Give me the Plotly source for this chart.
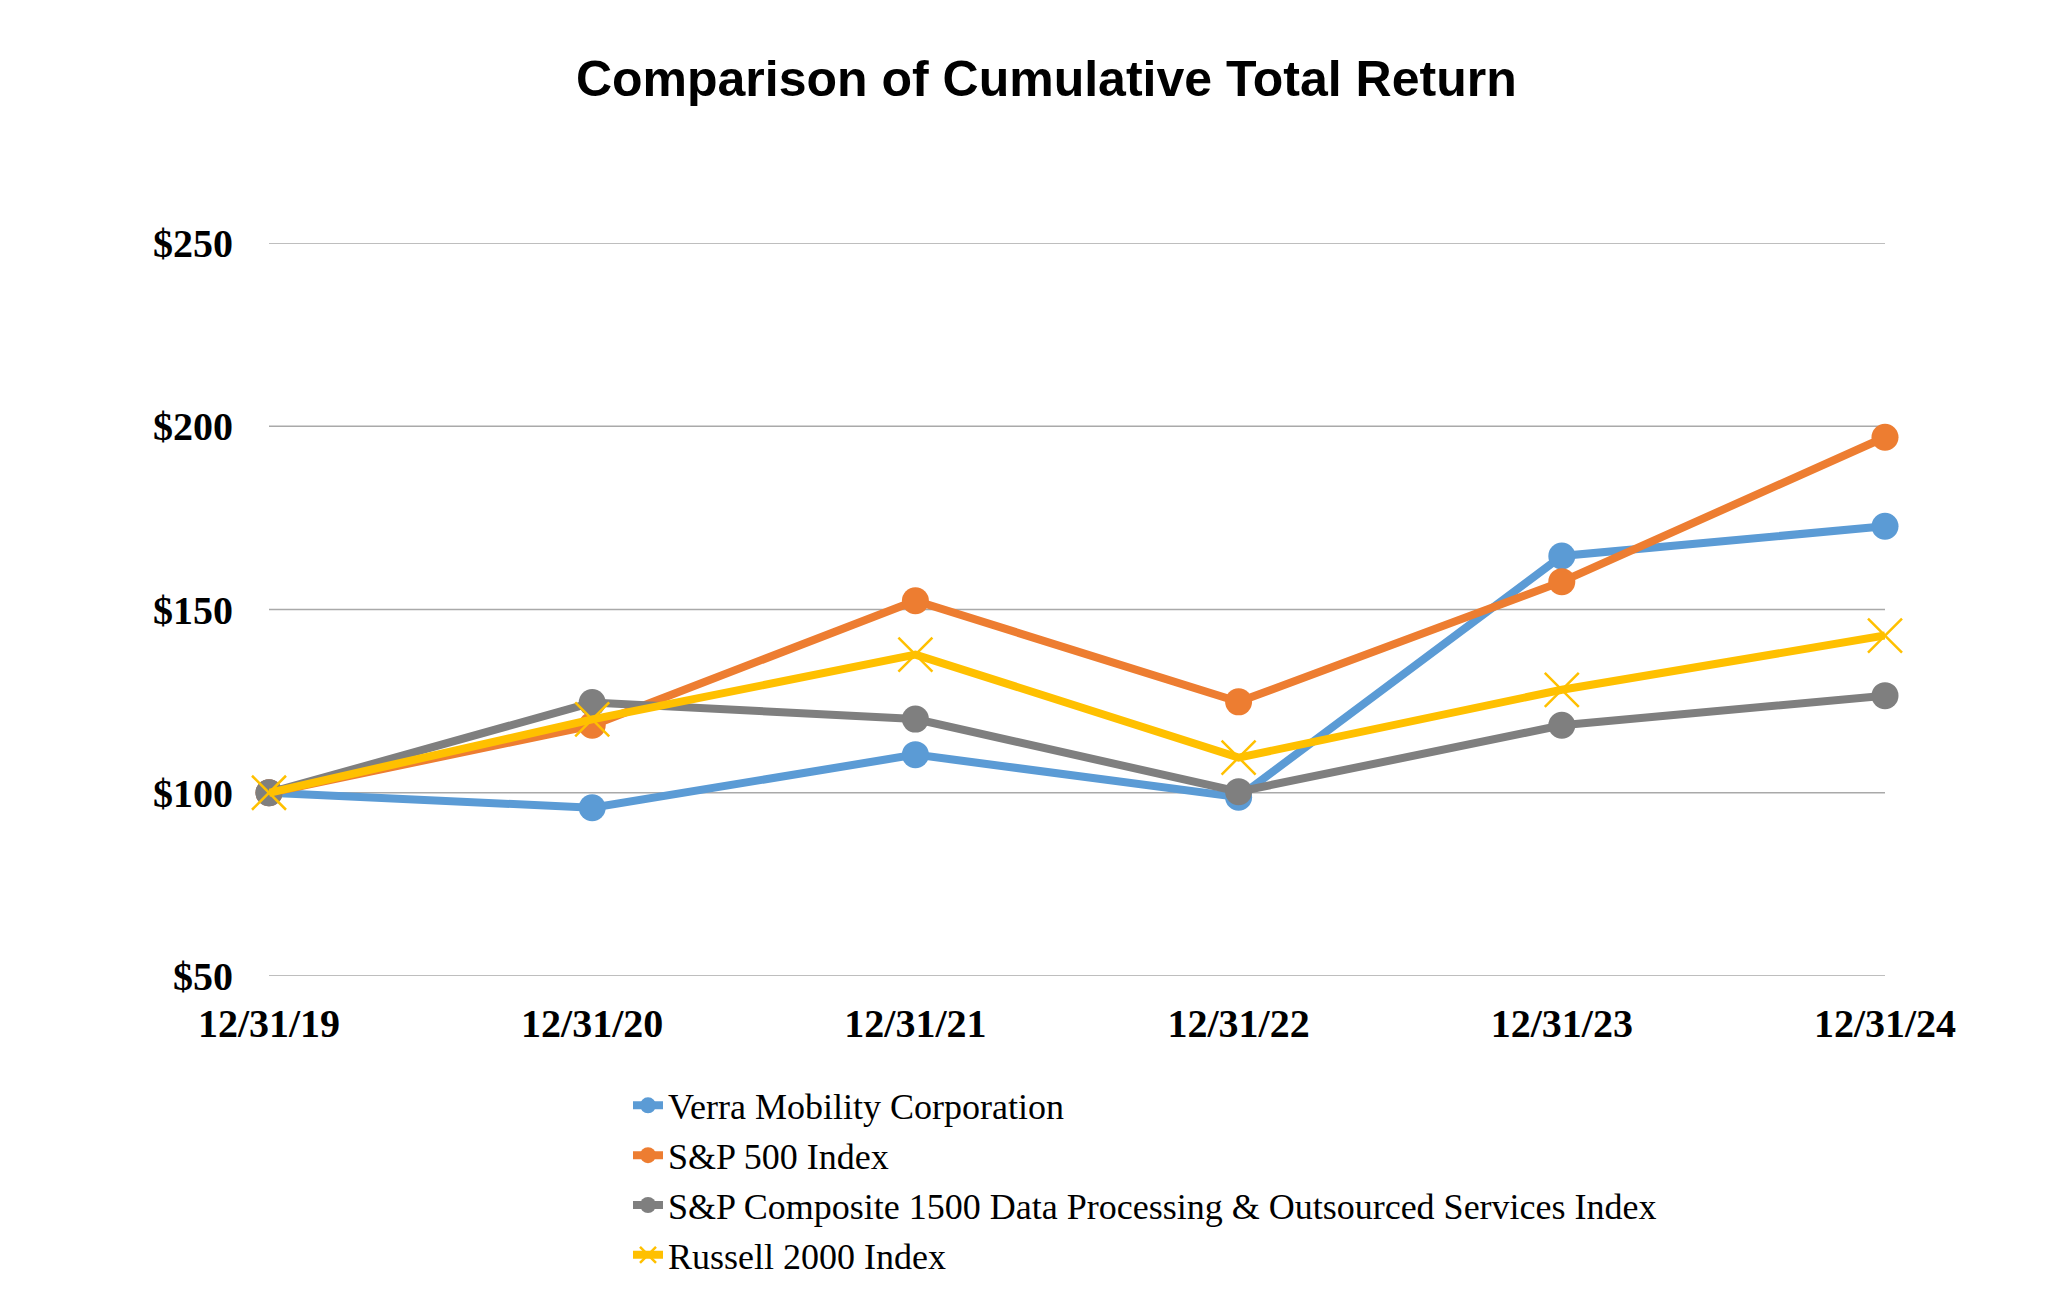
import plotly.graph_objects as go

dates = ["12/31/19", "12/31/20", "12/31/21", "12/31/22", "12/31/23", "12/31/24"]
verra = [100, 95.9, 110.4, 98.8, 164.6, 172.7]
sp500 = [100, 118.4, 152.4, 124.8, 157.6, 197.0]
sp1500_dp = [100, 124.6, 120.1, 100.3, 118.4, 126.5]
russell2000 = [100, 120.0, 137.7, 109.6, 128.1, 142.9]

y_ticks = [50, 100, 150, 200, 250]
y_tick_labels = ["$50", "$100", "$150", "$200", "$250"]

series = [
    ("Verra Mobility Corporation", verra, "#5B9BD5", "circle", 27, 0),
    ("S&P 500 Index", sp500, "#ED7D31", "circle", 27, 0),
    ("S&P Composite 1500 Data Processing & Outsourced Services Index", sp1500_dp, "#7F7F7F", "circle", 27, 0),
    ("Russell 2000 Index", russell2000, "#FFC000", "x-thin-open", 34, 2.5),
]

fig = go.Figure()

# horizontal gridlines at each y tick value
for v in y_ticks:
    fig.add_shape(type="line", xref="paper", x0=0, x1=1, yref="y", y0=v, y1=v,
                  line=dict(color="#A9A9A9", width=1.6), layer="below")

for name, vals, color, sym, size, lw in series:
    marker = dict(symbol=sym, size=size, color=color)
    if lw:
        marker["line"] = dict(color=color, width=lw)
    fig.add_trace(go.Scatter(
        x=list(range(len(dates))), y=vals, name=name, mode="lines+markers",
        line=dict(color=color, width=8), marker=marker, cliponaxis=False,
    ))

fig.update_layout(
    width=2052, height=1290,
    paper_bgcolor="white", plot_bgcolor="white",
    margin=dict(l=261, r=175, t=235, b=311),
    title=dict(text="<b>Comparison of Cumulative Total Return</b>", x=0.506, xanchor="center",
               y=1 - 70 / 1290, yanchor="middle",
               font=dict(family="Liberation Sans, Arial", size=50, color="black")),
    showlegend=True,
    legend=dict(x=(620 - 261) / 1616, xanchor="left", y=-0.1357, yanchor="top",
                font=dict(family="Liberation Serif, Times New Roman", size=36, color="black"),
                tracegroupgap=0, bgcolor="rgba(0,0,0,0)", borderwidth=0),
    xaxis=dict(range=[0, 5], tickmode="array", tickvals=list(range(len(dates))),
               ticktext=[f"<b>{d}</b>" for d in dates],
               showgrid=False, zeroline=False, showline=False, ticks="",
               ticklabelstandoff=20,
               tickfont=dict(family="Liberation Serif, Times New Roman", size=40, color="black")),
    yaxis=dict(range=[50, 250], tickmode="array", tickvals=y_ticks,
               ticktext=[f"<b>{t}</b>" for t in y_tick_labels],
               showgrid=False, zeroline=False, showline=False,
               ticks="", ticklabelstandoff=35,
               tickfont=dict(family="Liberation Serif, Times New Roman", size=40, color="black")),
)

fig.write_html("out.html")
